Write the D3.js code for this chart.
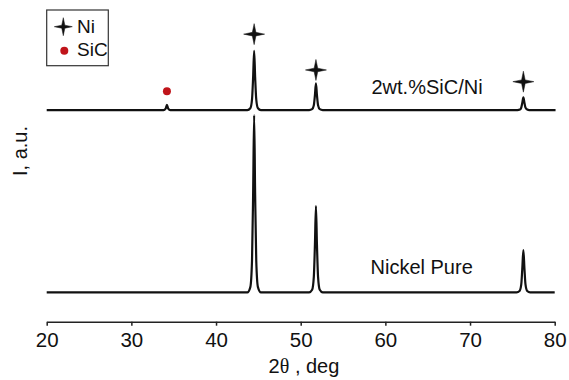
<!DOCTYPE html>
<html>
<head>
<meta charset="utf-8">
<script src="https://cdn.jsdelivr.net/npm/d3@7"></script>
<style>
  body { margin: 0; background: #fff; }
  svg { display: block; font-family: "Liberation Sans", Arial, sans-serif; }
</style>
</head>
<body>
<div id="chart"></div>
<script>
// XRD patterns, [2theta, intensity] points.
const xTicks = [20, 30, 40, 50, 60, 70, 80];

const pureNi = [
  [20, 0], [43.7, 0], [44.05, 30], [44.25, 180], [44.38, 550], [44.5, 1000],
  [44.62, 550], [44.75, 180], [44.95, 30], [45.3, 0],
  [51.0, 0], [51.35, 15], [51.55, 88], [51.68, 268], [51.8, 487],
  [51.92, 268], [52.05, 88], [52.25, 15], [52.6, 0],
  [75.5, 0], [75.85, 8], [76.05, 45], [76.17, 132], [76.3, 239],
  [76.43, 132], [76.55, 45], [76.75, 8], [77.1, 0], [80, 0]
];

const sicNi = [
  [20, 0], [33.8, 0], [34.05, 8], [34.2, 30], [34.35, 8], [34.6, 0],
  [43.7, 0], [44.05, 10], [44.25, 60], [44.38, 184], [44.5, 334],
  [44.62, 184], [44.75, 60], [44.95, 10], [45.3, 0],
  [51.0, 0], [51.35, 5], [51.55, 27], [51.68, 83], [51.8, 150],
  [51.92, 83], [52.05, 27], [52.25, 5], [52.6, 0],
  [75.6, 0], [75.9, 3], [76.05, 14], [76.17, 40], [76.3, 72],
  [76.43, 40], [76.55, 14], [76.75, 3], [77.0, 0], [80.1, 0]
];

// phase markers on the upper pattern: [2theta, raw intensity]
const niMarks = [[44.5, 428], [51.8, 226], [76.3, 160]];
const sicMarks = [[34.2, 106]];

const labels = ['2wt.%SiC/Ni', 'Nickel Pure'];
const legendItems = ['Ni', 'SiC'];

const stackOffset = 1028; // vertical shift of the upper pattern

const width = 569, height = 380;
const margin = {top: 10, right: 14.3, bottom: 58.3, left: 46.7};

const svg = d3.select('#chart').append('svg')
  .attr('width', width)
  .attr('height', height);

const x = d3.scaleLinear().domain([20, 80]).range([margin.left, width - margin.right]);
const y = d3.scaleLinear().domain([-165, 1592]).range([height - margin.bottom, margin.top]);

// 4 point star, thin straight arms
function star(r) {
  const w = r * 0.17;
  return `M0,${-r}L${w},${-w}L${r},0L${w},${w}L0,${r}L${-w},${w}L${-r},0L${-w},${-w}Z`;
}

const line = (off) => d3.line()
  .x(d => x(d[0]))
  .y(d => y(d[1] + off))
  .curve(d3.curveMonotoneX);

svg.append('path').datum(pureNi)
  .attr('d', line(0))
  .attr('fill', 'none').attr('stroke', '#111').attr('stroke-width', 2.2);

svg.append('path').datum(sicNi)
  .attr('d', line(stackOffset))
  .attr('fill', 'none').attr('stroke', '#111').attr('stroke-width', 2.2);

svg.selectAll('.ni-mark').data(niMarks).join('path')
  .attr('class', 'ni-mark')
  .attr('transform', d => `translate(${x(d[0])},${y(d[1] + stackOffset)})`)
  .attr('d', star(10.5))
  .attr('fill', '#111')
  .attr('stroke', '#111').attr('stroke-width', 0.5);

svg.selectAll('.sic-mark').data(sicMarks).join('circle')
  .attr('class', 'sic-mark')
  .attr('cx', d => x(d[0]))
  .attr('cy', d => y(d[1] + stackOffset))
  .attr('r', 4)
  .attr('fill', '#c0141a');

// series labels
svg.append('text')
  .attr('x', 371.5).attr('y', 94)
  .attr('font-size', 20).attr('fill', '#111')
  .text(labels[0]);
svg.append('text')
  .attr('x', 370.5).attr('y', 273.5)
  .attr('font-size', 20).attr('fill', '#111')
  .text(labels[1]);

// x axis
const xAxis = d3.axisBottom(x)
  .tickValues(xTicks)
  .tickSize(4)
  .tickSizeOuter(0)
  .tickPadding(7);

const gx = svg.append('g')
  .attr('transform', `translate(0,${height - margin.bottom})`)
  .call(xAxis);
gx.select('.domain').attr('stroke', '#222').attr('stroke-width', 1.5);
gx.selectAll('.tick line').attr('stroke', '#222').attr('stroke-width', 1.5);
gx.selectAll('.tick text')
  .attr('font-size', 20.5)
  .attr('font-family', '"Liberation Sans", Arial, sans-serif')
  .attr('fill', '#111');

const xt = svg.append('text')
  .attr('x', 304).attr('y', 372.5)
  .attr('text-anchor', 'middle')
  .attr('font-size', 20).attr('fill', '#111');
xt.append('tspan').text('2');
xt.append('tspan').attr('font-family', '"Liberation Serif", serif').text('θ');
xt.append('tspan').text(' , deg');

svg.append('text')
  .attr('transform', 'translate(27,151) rotate(-90)')
  .attr('text-anchor', 'middle')
  .attr('font-size', 20).attr('fill', '#111')
  .text('I, a.u.');

// legend
const lg = svg.append('g');
lg.append('rect')
  .attr('x', 46.7).attr('y', 10)
  .attr('width', 61.6).attr('height', 55.7)
  .attr('fill', 'none').attr('stroke', '#333').attr('stroke-width', 1.2);
lg.append('path')
  .attr('transform', 'translate(63.3,26.7)')
  .attr('d', star(9))
  .attr('fill', '#111')
  .attr('stroke', '#111').attr('stroke-width', 0.5);
lg.append('circle')
  .attr('cx', 64.3).attr('cy', 50.7).attr('r', 4)
  .attr('fill', '#c0141a');
lg.selectAll('.lg-text').data(legendItems).join('text')
  .attr('class', 'lg-text')
  .attr('x', 77)
  .attr('y', (d, i) => i === 0 ? 33 : 55.5)
  .attr('font-size', 19).attr('fill', '#111')
  .text(d => d);
</script>
</body>
</html>
